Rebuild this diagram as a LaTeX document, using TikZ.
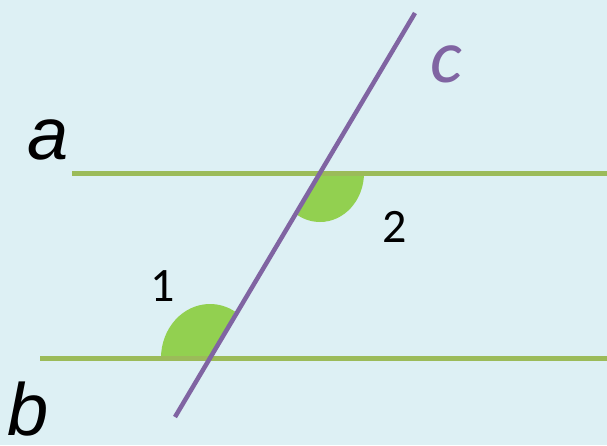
\documentclass[tikz,border=0pt]{standalone}
\usepackage{fontspec}
\setmainfont{Liberation Sans}
\newfontfamily\calfont{Carlito}
\definecolor{bgblue}{HTML}{DDF0F4}
\definecolor{linegreen}{HTML}{9BBB59}
\definecolor{fillgreen}{HTML}{92D050}
\definecolor{cpurple}{HTML}{8064A2}
\begin{document}
\begin{tikzpicture}[x=1pt,y=-1pt,
  parline/.style={draw=linegreen,line width=5pt},
  transline/.style={draw=cpurple,line width=4.5pt},
  anglefill/.style={fill=fillgreen,draw=none},
  biglabel/.style={font=\fontsize{74}{74}\selectfont\itshape,anchor=base,inner sep=0pt},
  numlabel/.style={font=\calfont\fontsize{48}{48}\selectfont,anchor=base,inner sep=0pt}]
\fill[bgblue] (0,0) rectangle (607,445);
\useasboundingbox (0,0) rectangle (607,445);
% intersection points
\coordinate (P) at (320,173);
\coordinate (Q) at (210,358);
% angle sectors
\fill[anglefill] (P) -- ++(44,0) arc[start angle=0,end angle=-120.7,x radius=44,y radius=-49] -- cycle;
\fill[anglefill] (Q) -- ++(-49,0) arc[start angle=180,end angle=59.3,x radius=49,y radius=-54] -- cycle;
% lines
\coordinate (a1) at (72,173);
\coordinate (a2) at (607,173);
\coordinate (b1) at (40,358);
\coordinate (b2) at (607,358);
\coordinate (c1) at (175,417);
\coordinate (c2) at (415,13);
\draw[parline] (a1) -- (a2);
\draw[parline] (b1) -- (b2);
\draw[transline] (c1) -- (c2);
% labels
\node[biglabel] (la) at (48,159) {a};
\node[biglabel] (lb) at (28,435) {b};
\node[font=\calfont\fontsize{76}{76}\selectfont\itshape,anchor=base,inner sep=0pt,text=cpurple] (lc) at (446,82) {c};
\node[numlabel] (l2) at (395,242) {2};
\node[numlabel] (l1) at (163,301) {1};
\end{tikzpicture}
\end{document}
